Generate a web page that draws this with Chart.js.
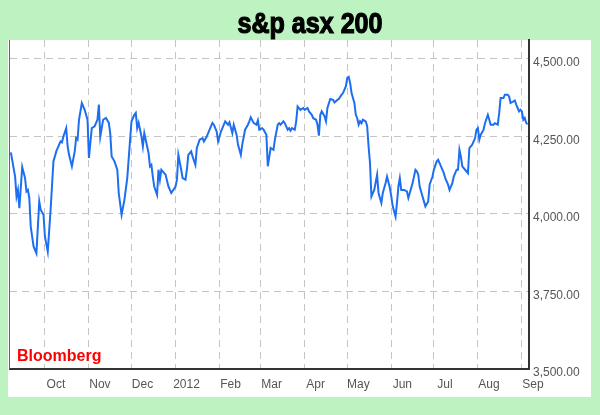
<!DOCTYPE html>
<html>
<head>
<meta charset="utf-8">
<script src="https://cdn.jsdelivr.net/npm/chart.js@4"></script>
<style>
  html, body { margin: 0; padding: 0; background: #bdf3c1; }
  #wrap { width: 600px; height: 415px; }
</style>
</head>
<body>
<div id="wrap"><canvas id="myChart" width="600" height="415"></canvas></div>
<script>
// x = days since 1 Sep 2011
const days = [6, 9, 10, 11, 12, 14, 16, 17, 18, 19, 20, 22, 24, 26, 27, 29, 30, 32, 34, 36,
  38, 40, 41, 42, 43, 45, 46, 47, 49, 51, 52, 53, 54, 56, 58, 60, 61, 63, 65, 67,
  68, 69, 71, 73, 75, 76, 77, 79, 81, 82, 84, 86, 88, 90, 91, 93, 94, 95, 96, 98,
  99, 100, 102, 103, 104, 105, 106, 107, 109, 110, 111, 112, 115, 117, 119, 122, 123, 124, 126, 127,
  129, 130, 131, 133, 134, 136, 137, 139, 141, 142, 144, 146, 148, 149, 151, 152, 154, 155, 157, 159,
  160, 162, 163, 165, 166, 168, 169, 171, 173, 174, 175, 177, 179, 180, 181, 183, 184, 186, 187, 189,
  191, 192, 194, 195, 196, 198, 199, 201, 202, 203, 204, 206, 207, 208, 210, 212, 213, 215, 216, 218,
  219, 221, 222, 223, 224, 225, 227, 228, 229, 231, 233, 234, 236, 237, 239, 240, 242, 243, 244, 245,
  246, 248, 249, 250, 251, 252, 253, 254, 256, 257, 258, 259, 260, 261, 262, 264, 265, 267, 268, 270,
  271, 273, 274, 275, 277, 278, 279, 280, 281, 283, 285, 286, 287, 289, 291, 292, 293, 294, 296, 297,
  298, 300, 301, 303, 304, 306, 307, 309, 311, 312, 314, 315, 317, 318, 320, 321, 322, 323, 324, 326,
  328, 329, 331, 333, 334, 335, 336, 337, 339, 340, 342, 343, 344, 346, 347, 349, 350, 351, 353, 354,
  356, 357, 358, 360, 361, 362, 364, 365, 366, 367, 368, 369, 370];
const closes = [4198, 4120, 4056, 4077, 4018, 4151, 4115, 4072, 4077, 4051, 3959, 3895, 3873, 4040, 4013, 3997, 3927, 3878, 4013, 4169,
  4201, 4223, 4233, 4230, 4249, 4276, 4217, 4190, 4153, 4201, 4244, 4239, 4303, 4357, 4335, 4303, 4180, 4276, 4282, 4303,
  4352, 4249, 4303, 4309, 4293, 4260, 4185, 4169, 4142, 4067, 3997, 4045, 4115, 4239, 4298, 4319, 4325, 4276, 4293, 4249,
  4217, 4260, 4217, 4196, 4153, 4158, 4120, 4088, 4061, 4142, 4110, 4142, 4126, 4088, 4067, 4088, 4110, 4190, 4142, 4115,
  4110, 4142, 4190, 4201, 4185, 4158, 4212, 4239, 4244, 4233, 4249, 4271, 4293, 4287, 4265, 4233, 4265, 4276, 4298, 4287,
  4295, 4260, 4287, 4255, 4223, 4190, 4223, 4271, 4287, 4298, 4311, 4293, 4287, 4301, 4271, 4276, 4271, 4255, 4153, 4212,
  4206, 4239, 4287, 4292, 4287, 4298, 4292, 4271, 4276, 4268, 4276, 4271, 4298, 4346, 4335, 4341, 4335, 4341, 4330, 4319,
  4308, 4303, 4287, 4252, 4319, 4330, 4314, 4298, 4341, 4370, 4367, 4359, 4367, 4370, 4384, 4389, 4411, 4438, 4441, 4422,
  4389, 4357, 4319, 4308, 4287, 4298, 4292, 4303, 4298, 4282, 4217, 4163, 4056, 4067, 4077, 4126, 4067, 4035, 4067, 4099,
  4120, 4083, 4056, 4024, 3991, 4035, 4088, 4115, 4077, 4077, 4072, 4051, 4067, 4099, 4142, 4137, 4126, 4088, 4056, 4040,
  4024, 4040, 4094, 4120, 4142, 4169, 4174, 4153, 4131, 4115, 4094, 4077, 4099, 4120, 4142, 4142, 4206, 4185, 4153, 4142,
  4131, 4212, 4223, 4244, 4271, 4276, 4239, 4255, 4271, 4292, 4319, 4303, 4287, 4287, 4292, 4287, 4325, 4373, 4373, 4384,
  4384, 4378, 4357, 4362, 4365, 4352, 4330, 4335, 4330, 4303, 4309, 4293, 4288];

const monthDays = [30, 61, 91, 122, 153, 182, 213, 243, 274, 304, 335, 366];
const monthLabels = ['Oct', 'Nov', 'Dec', '2012', 'Feb', 'Mar', 'Apr', 'May', 'Jun', 'Jul', 'Aug', 'Sep'];
const yTicks = [3500, 3750, 4000, 4250, 4500];
const title = 's&p asx 200';

let points = [];
for (let i = 0; i < days.length; i++) {
  points.push({x: days[i], y: closes[i]});
}

const panel = {
  id: 'panel',
  beforeDraw(chart) {
    const c = chart.ctx;
    c.save();
    c.fillStyle = '#bdf3c1';
    c.fillRect(0, 0, chart.width, chart.height);
    c.fillStyle = '#ffffff';
    c.fillRect(8, 40, 583, 357);
    c.restore();
  },
  afterDraw(chart) {
    const c = chart.ctx;
    const a = chart.chartArea;
    c.save();
    // left edge of the frame
    c.strokeStyle = '#666';
    c.lineWidth = 1;
    c.beginPath();
    c.moveTo(a.left - 0.5, a.top);
    c.lineTo(a.left - 0.5, a.bottom);
    c.stroke();
    c.fillStyle = '#ff0000';
    c.font = "bold 16px 'Liberation Sans', Arial, sans-serif";
    c.textBaseline = 'middle';
    c.fillText('Bloomberg', 17, 357);
    // narrow heavy title
    c.fillStyle = '#000';
    c.strokeStyle = '#000';
    c.lineWidth = 1.2;
    c.font = "bold 30px 'Liberation Sans', Arial, sans-serif";
    c.textAlign = 'center';
    c.textBaseline = 'alphabetic';
    const w = c.measureText(title).width;
    c.translate(310, 33);
    c.scale(145 / w, 1);
    c.fillText(title, 0, 0);
    c.strokeText(title, 0, 0);
    c.restore();
  }
};

const grey = '#c4c4c4';

new Chart(document.getElementById('myChart'), {
  type: 'line',
  data: {
    datasets: [{
      label: 'S&P ASX 200',
      data: points,
      borderColor: '#1e6ff0',
      borderWidth: 2,
      pointRadius: 0,
      tension: 0,
      fill: false
    }]
  },
  plugins: [panel],
  options: {
    responsive: false,
    animation: false,
    layout: { padding: { left: 10, top: 40, right: 0, bottom: 0 } },
    plugins: {
      legend: { display: false },
      tooltip: { enabled: false }
    },
    scales: {
      x: {
        type: 'linear',
        min: 5.4,
        max: 371,
        afterFit: s => { s.height = 46; },
        afterBuildTicks: s => { s.ticks = monthDays.map(v => ({value: v})); },
        grid: { color: grey, drawTicks: false },
        border: { color: '#333', width: 2, dash: [7, 5] },
        ticks: {
          autoSkip: false,
          maxRotation: 0,
          padding: 8,
          labelOffset: 11,
          color: '#555',
          font: { family: "'Liberation Sans', Arial, sans-serif", size: 12 },
          callback: (v) => monthLabels[monthDays.indexOf(v)]
        }
      },
      y: {
        position: 'right',
        min: 3500,
        max: 4560,
        afterFit: s => { s.width = 71; },
        afterBuildTicks: s => { s.ticks = yTicks.map(v => ({value: v})); },
        grid: { color: grey, drawTicks: false },
        border: { color: '#333', width: 2, dash: [7, 5] },
        ticks: {
          padding: 4,
          labelOffset: 4,
          color: '#555',
          font: { family: "'Liberation Sans', Arial, sans-serif", size: 12 },
          callback: v => v.toLocaleString('en-US', {minimumFractionDigits: 2, maximumFractionDigits: 2})
        }
      }
    }
  }
});
</script>
</body>
</html>
